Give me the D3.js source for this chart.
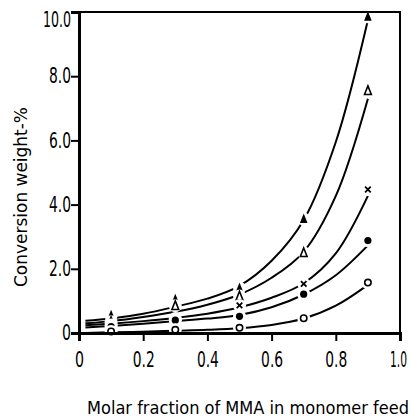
<!DOCTYPE html>
<html>
<head>
<meta charset="utf-8">
<script src="https://cdn.jsdelivr.net/npm/d3@7"></script>
<style>
  body { margin: 0; background: #fff; }
  text { font-family: "DejaVu Sans Condensed", sans-serif; fill: #000; }
</style>
</head>
<body>
<div id="container"></div>
<script>
let w = 411;
let h = 417;

// marker positions (x = molar fraction of MMA)
let feedX = [0.1, 0.3, 0.5, 0.7, 0.9];
let filledTri  = [0.55, 1.05, 1.4, 3.55, 9.85];
let openTri    = [0.35, 0.85, 1.15, 2.5, 7.55];
let crossPts   = [0.25, 0.45, 0.86, 1.53, 4.47];
let filledDot  = [0.2, 0.4, 0.52, 1.21, 2.88];
let openDot    = [0.05, 0.1, 0.16, 0.46, 1.57];

// fitted curves
let curveX        = [0.02, 0.1, 0.2, 0.3, 0.4, 0.5, 0.6, 0.7, 0.8, 0.9];
let curveFilledTri = [0.38, 0.45, 0.6, 0.82, 1.07, 1.47, 2.25, 3.52, 5.95, 9.75];
let curveOpenTri   = [0.3, 0.37, 0.5, 0.66, 0.88, 1.2, 1.72, 2.53, 4.27, 7.3];
let curveCross     = [0.24, 0.29, 0.37, 0.47, 0.6, 0.8, 1.1, 1.55, 2.48, 4.27];
let curveFilledDot = [0.17, 0.22, 0.29, 0.37, 0.45, 0.56, 0.8, 1.2, 1.8, 2.73];
let curveOpenDot   = [0.0, 0.02, 0.04, 0.07, 0.1, 0.15, 0.25, 0.45, 0.85, 1.5];

let xTicks = [0, 0.2, 0.4, 0.6, 0.8, 1.0];
let xTickLabels = ["0", "0.2", "0.4", "0.6", "0.8", "1.0"];
let yTicks = [0, 2, 4, 6, 8, 10];
let yTickLabels = ["0", "2.0", "4.0", "6.0", "8.0", "10.0"];

let x = d3.scaleLinear().domain([0, 1]).range([79, 400]);
let y = d3.scaleLinear().domain([0, 10]).range([333, 12]);

// squeeze the digits like the narrow typeface of the original
function labelWidth(s) {
  let wd = 0;
  for (let c of s) wd += (c == "1") ? 6 : (c == ".") ? 4 : 9;
  return wd;
}

let viz = d3.select('#container')
              .append("svg")
                .attr("width", w)
                .attr("height", h)
                .style("background-color", "#fff")
;

//curves
let line = d3.line()
              .x(d => x(d[0]))
              .y(d => y(d[1]))
              .curve(d3.curveCatmullRom.alpha(0.5));

let curves = [curveFilledTri, curveOpenTri, curveCross, curveFilledDot, curveOpenDot];
viz.selectAll(".fit").data(curves).enter()
    .append("path")
      .attr("class", "fit")
      .attr("d", vals => line(curveX.map((cx, i) => [cx, vals[i]])))
      .attr("fill", "none")
      .attr("stroke", "black")
      .attr("stroke-width", 2)
;

//markers
let series = [
  {vals: filledTri, type: "filledTri"},
  {vals: openTri, type: "openTri"},
  {vals: crossPts, type: "cross"},
  {vals: filledDot, type: "filledDot"},
  {vals: openDot, type: "openDot"}
];

let pts = [];
series.forEach(s => s.vals.forEach((v, i) => pts.push({x: feedX[i], v: v, type: s.type})));

let marks = viz.selectAll(".mark").data(pts).enter()
    .append("g")
      .attr("class", "mark")
      .attr("transform", d => "translate(" + x(d.x) + "," + y(d.v) + ")")
;

// white halo makes the gap in the curve
marks.append("circle")
      .attr("r", 6.5)
      .attr("fill", "white")
;

marks.filter(d => d.type == "filledTri").append("path")
      .attr("d", "M0,-5.5 L3.8,4 L-3.8,4 Z")
      .attr("fill", "black")
;
marks.filter(d => d.type == "openTri").append("path")
      .attr("d", "M0,-4.8 L3.4,3.8 L-3.4,3.8 Z")
      .attr("fill", "white")
      .attr("stroke", "black")
      .attr("stroke-width", 1.6)
;
marks.filter(d => d.type == "cross").append("path")
      .attr("d", "M-2.8,-2.8 L2.8,2.8 M2.8,-2.8 L-2.8,2.8")
      .attr("stroke", "black")
      .attr("stroke-width", 1.8)
;
marks.filter(d => d.type == "filledDot").append("circle")
      .attr("r", 3.6)
      .attr("fill", "black")
;
marks.filter(d => d.type == "openDot").append("circle")
      .attr("r", 3.2)
      .attr("fill", "white")
      .attr("stroke", "black")
      .attr("stroke-width", 1.6)
;

//frame
viz.append("rect")
      .attr("x", x(0))
      .attr("y", y(10))
      .attr("width", x(1) - x(0))
      .attr("height", y(0) - y(10))
      .attr("fill", "none")
      .attr("stroke", "black")
      .attr("stroke-width", 2)
;

//axes
let xAxis = d3.axisBottom(x)
              .tickValues(xTicks)
              .tickFormat((d, i) => xTickLabels[i])
              .tickSize(8)
              .tickPadding(11);
let gx = viz.append("g")
      .attr("transform", "translate(0," + y(0) + ")")
      .call(xAxis);
gx.select(".domain").attr("stroke-width", 3);
gx.selectAll(".tick line").attr("stroke-width", 2);
gx.selectAll(".tick").filter(d => d == 0 || d == 1).select("line").remove();
gx.selectAll(".tick text")
      .style("font-size", "21px")
      .style("font-family", "'DejaVu Sans Condensed', sans-serif")
      .attr("textLength", (d, i) => labelWidth(xTickLabels[i]))
      .attr("lengthAdjust", "spacingAndGlyphs");
// last label sits against the window edge
gx.selectAll(".tick").filter(d => d == 1).select("text")
      .attr("x", -2)
      .attr("textLength", 17);

let yAxis = d3.axisLeft(y)
              .tickValues(yTicks)
              .tickFormat((d, i) => yTickLabels[i])
              .tickSize(8)
              .tickPadding(0);
let gy = viz.append("g")
      .attr("transform", "translate(" + x(0) + ",0)")
      .call(yAxis);
gy.select(".domain").attr("stroke-width", 3);
gy.selectAll(".tick line").attr("stroke-width", 2);
gy.selectAll(".tick").filter(d => d == 10).select("line").remove();
gy.selectAll(".tick").filter(d => d == 10).select("text").attr("y", 8);
gy.selectAll(".tick text")
      .style("font-size", "21px")
      .style("font-family", "'DejaVu Sans Condensed', sans-serif")
      .attr("textLength", (d, i) => labelWidth(yTickLabels[i]))
      .attr("lengthAdjust", "spacingAndGlyphs");

//labels
viz.append("text")
      .text("Molar fraction of MMA in monomer feed")
      .attr("x", 248)
      .attr("y", 414)
      .attr("text-anchor", "middle")
      .attr("textLength", 322)
      .attr("lengthAdjust", "spacingAndGlyphs")
      .style("font-size", "17px")
;
viz.append("text")
      .text("Conversion weight-%")
      .attr("transform", "translate(27,197) rotate(-90)")
      .attr("text-anchor", "middle")
      .attr("textLength", 180)
      .attr("lengthAdjust", "spacingAndGlyphs")
      .style("font-size", "18px")
;
</script>
</body>
</html>
